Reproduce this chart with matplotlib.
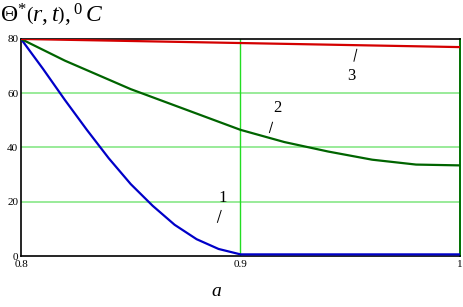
import matplotlib.pyplot as plt
import numpy as np

# curve values
a = [0.80, 0.81, 0.82, 0.83, 0.84, 0.85, 0.86, 0.87, 0.88, 0.89, 0.90,
     0.92, 0.94, 0.96, 0.98, 1.00]
theta1 = [80, 69, 57.5, 46.5, 36, 26.5, 18.5, 11.5, 6.2, 2.6, 0.6,
          0.6, 0.6, 0.6, 0.6, 0.6]
theta2 = [80, 76, 72, 68.5, 65, 61.5, 58.5, 55.5, 52.5, 49.5, 46.5,
          42, 38.5, 35.5, 33.7, 33.4]
theta3 = [80, 79.85, 79.7, 79.55, 79.4, 79.25, 79.1, 78.95, 78.8, 78.65, 78.5,
          78.2, 77.9, 77.6, 77.3, 77.0]

plt.rcParams['font.family'] = ['Liberation Serif', 'DejaVu Serif']
plt.rcParams['mathtext.fontset'] = 'custom'
plt.rcParams['mathtext.rm'] = 'Liberation Serif'
plt.rcParams['mathtext.it'] = 'Liberation Serif:italic'

fig = plt.figure(figsize=(4.63, 3.07), dpi=100)
ax = fig.add_axes([0.0454, 0.1661, 0.948, 0.707])

for yv in [20, 40, 60]:
    ax.axhline(yv, color='#88e888', lw=1.2, zorder=1)
ax.axvline(0.9, color='#22dd22', lw=1.0, zorder=1)

ax.plot(a, theta1, color='#0000c8', lw=1.6, zorder=3)
ax.plot(a, theta2, color='#006400', lw=1.6, zorder=3)
ax.plot(a, theta3, color='#d40000', lw=1.6, zorder=3)

ax.set_xlim(0.8, 1.0)
ax.set_ylim(0, 80)
ax.set_xticks([0.8, 0.9, 1.0])
ax.set_xticklabels(['0.8', '0.9', '1'])
ax.set_yticks([0, 20, 40, 60, 80])
ax.tick_params(length=0, labelsize=8, pad=2)
ax.tick_params(axis='x', pad=3)
for s in ['left', 'bottom', 'top']:
    ax.spines[s].set_color('black')
    ax.spines[s].set_linewidth(1.2)
ax.spines['right'].set_color('#007000')
ax.spines['right'].set_linewidth(1.4)

# curve labels with leader ticks
ax.text(0.8917, 21.5, '1', fontsize=12, ha='center', va='center')
ax.plot([0.8895, 0.8912], [12.4, 16.8], color='black', lw=0.7)
ax.text(0.9169, 54.5, '2', fontsize=12, ha='center', va='center')
ax.plot([0.9132, 0.9146], [45.5, 49.3], color='black', lw=0.7)
ax.text(0.9503, 66.2, '3', fontsize=12, ha='center', va='center')
ax.plot([0.9517, 0.9530], [71.8, 76.2], color='black', lw=0.7)

fig.text(0.0, 0.95, r'$\Theta^{*}\left(r,t\right),{}^{0}\,C$', fontsize=17,
         ha='left', va='center')
fig.text(0.468, 0.05, r'$a$', fontsize=14, ha='center', va='center')

fig.savefig('out.png', dpi=100)
